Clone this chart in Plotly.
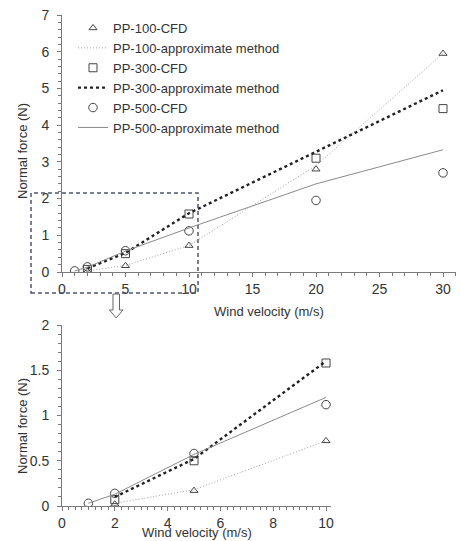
import plotly.graph_objects as go

W, H = 460, 541

# ---------------- data ----------------
v_cfd_100 = [2, 5, 10, 20, 30]
pp100_cfd = [0.02, 0.17, 0.72, 2.80, 5.95]
v_apx_100 = [2, 5, 10, 20, 30]
pp100_apx = [0.03, 0.18, 0.72, 2.90, 5.95]

v_cfd_300 = [2, 5, 10, 20, 30]
pp300_cfd = [0.07, 0.50, 1.58, 3.10, 4.45]
v_apx_300 = [2, 5, 10, 20, 30]
pp300_apx = [0.10, 0.52, 1.60, 3.28, 4.95]

v_cfd_500 = [1, 2, 5, 10, 20, 30]
pp500_cfd = [0.03, 0.14, 0.58, 1.12, 1.95, 2.70]
v_apx_500 = [1, 2, 5, 10, 20, 30]
pp500_apx = [0.03, 0.13, 0.57, 1.20, 2.40, 3.33]

names = ["PP-100-CFD", "PP-100-approximate method",
         "PP-300-CFD", "PP-300-approximate method",
         "PP-500-CFD", "PP-500-approximate method"]

x_title = "Wind velocity (m/s)"
y_title = "Normal force (N)"

# ---------------- helpers ----------------
def px(x):
    return x / W

def py(y):
    return 1 - y / H

FONT = "Liberation Sans, Arial, sans-serif"
TXT = "#333333"
AX = "#7a7a7a"
MK = "#444444"

fig = go.Figure()

series = [
    (v_cfd_100, pp100_cfd, v_apx_100, pp100_apx, "triangle-up-open", 7,
     dict(color="#a0a0a0", width=1, dash="1px,2px")),
    (v_cfd_300, pp300_cfd, v_apx_300, pp300_apx, "square-open", 8,
     dict(color="#222222", width=2.4, dash="dot")),
    (v_cfd_500, pp500_cfd, v_apx_500, pp500_apx, "circle-open", 8.5,
     dict(color="#8a8a8a", width=1)),
]

for k, (vc, yc, va, ya, sym, sz, lst) in enumerate(series):
    for (xa, ya_ax, lim, show) in [("x", "y", 100, True), ("x2", "y2", 10, False)]:
        cx = [v for v in vc if v <= lim]
        cy = [y for v, y in zip(vc, yc) if v <= lim]
        ax_ = [v for v in va if v <= lim]
        ay_ = [y for v, y in zip(va, ya) if v <= lim]
        fig.add_trace(go.Scatter(x=cx, y=cy, mode="markers", name=names[2 * k],
                                 marker=dict(symbol=sym, size=sz, color=MK,
                                             line=dict(width=1, color=MK)),
                                 xaxis=xa, yaxis=ya_ax, showlegend=show))
        fig.add_trace(go.Scatter(x=ax_, y=ay_, mode="lines", name=names[2 * k + 1],
                                 line=lst, xaxis=xa, yaxis=ya_ax, showlegend=show))

axis_common = dict(showline=True, linecolor=AX, linewidth=1, showgrid=False,
                   zeroline=False, ticks="outside", ticklen=4, tickcolor=AX,
                   automargin=False,
                   tickfont=dict(family=FONT, size=14, color=TXT))
minor_common = dict(ticks="outside", ticklen=3, tickcolor=AX)

fig.update_layout(
    width=W, height=H,
    margin=dict(l=0, r=0, t=0, b=0),
    paper_bgcolor="white", plot_bgcolor="white",
    font=dict(family=FONT, size=13, color=TXT),
    xaxis=dict(axis_common, domain=[px(62), px(455.7)], range=[0, 31],
               dtick=5, tick0=0, anchor="y",
               minor=dict(minor_common, dtick=1)),
    yaxis=dict(axis_common, domain=[py(272), py(15)], range=[0, 7],
               dtick=1, tick0=0, anchor="x", ticklabelstandoff=5,
               minor=dict(minor_common, dtick=0.2)),
    xaxis2=dict(axis_common, domain=[px(62), px(331.3)], range=[0, 10.2],
                dtick=2, tick0=0, anchor="y2",
                minor=dict(minor_common, dtick=0.25)),
    yaxis2=dict(axis_common, domain=[py(506), py(325)], range=[0, 2],
                dtick=0.5, tick0=0, anchor="x2", ticklabelstandoff=5,
                minor=dict(minor_common, dtick=0.1)),
    legend=dict(x=px(73), y=py(13), xanchor="left", yanchor="top",
                bgcolor="rgba(0,0,0,0)", font=dict(family=FONT, size=13, color=TXT),
                itemwidth=30, tracegroupgap=0),
    showlegend=True,
)

# axis titles as annotations
ann_font = dict(family=FONT, size=13, color=TXT)
for (ax_px, ay_px, txt, ang) in [(269, 311, x_title, 0), (197, 532.5, x_title, 0),
                                 (22, 151, y_title, -90), (22, 426, y_title, -90)]:
    fig.add_annotation(x=px(ax_px), y=py(ay_px), xref="paper", yref="paper",
                       text=txt, showarrow=False, textangle=ang,
                       xanchor="center", yanchor="middle", font=ann_font)

# dashed zoom rectangle
fig.add_shape(type="rect", xref="paper", yref="paper",
              x0=px(31), x1=px(198), y0=py(293), y1=py(193),
              line=dict(color="#505670", width=1.5, dash="4px,3px"))

# hollow down arrow
pts = [(113, 294), (119.5, 294), (119.5, 310), (123, 310), (116.2, 318),
       (109.5, 310), (113, 310)]
path = "M " + " L ".join(f"{px(a):.5f},{py(b):.5f}" for a, b in pts) + " Z"
fig.add_shape(type="path", xref="paper", yref="paper", path=path,
              line=dict(color="#666666", width=1), fillcolor="white")

fig.write_html("out.html",
               config={"displayModeBar": False},
               post_script="document.body.style.margin='0';"
                           "document.body.style.padding='0';"
                           "document.body.style.overflow='hidden';")
